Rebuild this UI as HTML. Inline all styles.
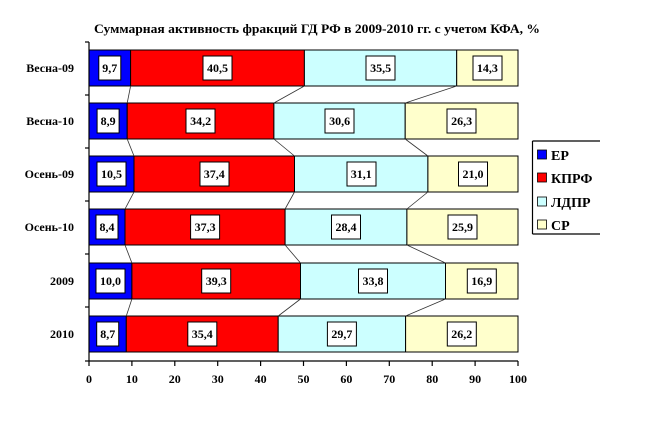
<!DOCTYPE html>
<html><head><meta charset="utf-8"><style>
body{margin:0;background:#fff}
svg{display:block;font-family:"Liberation Serif","DejaVu Serif",serif;font-weight:bold}
</style></head><body>
<svg width="650" height="432" xmlns="http://www.w3.org/2000/svg" font-size="12">
<text x="317" y="33" text-anchor="middle" font-size="12.5" textLength="446" lengthAdjust="spacingAndGlyphs">Суммарная активность фракций ГД РФ в 2009-2010 гг. с учетом КФА, %</text>
<g stroke="#000" stroke-width="1">
<rect x="89" y="50" width="41.6" height="36" fill="#0000ff"/>
<rect x="130.6" y="50" width="173.8" height="36" fill="#ff0000"/>
<rect x="304.4" y="50" width="152.3" height="36" fill="#ccffff"/>
<rect x="456.7" y="50" width="61.3" height="36" fill="#ffffcc"/>
<rect x="89" y="103" width="38.2" height="36" fill="#0000ff"/>
<rect x="127.2" y="103" width="146.7" height="36" fill="#ff0000"/>
<rect x="273.9" y="103" width="131.3" height="36" fill="#ccffff"/>
<rect x="405.2" y="103" width="112.8" height="36" fill="#ffffcc"/>
<rect x="89" y="156" width="45" height="36" fill="#0000ff"/>
<rect x="134" y="156" width="160.5" height="36" fill="#ff0000"/>
<rect x="294.5" y="156" width="133.4" height="36" fill="#ccffff"/>
<rect x="427.9" y="156" width="90.1" height="36" fill="#ffffcc"/>
<rect x="89" y="209" width="36" height="36" fill="#0000ff"/>
<rect x="125" y="209" width="160.1" height="36" fill="#ff0000"/>
<rect x="285.1" y="209" width="121.8" height="36" fill="#ccffff"/>
<rect x="406.9" y="209" width="111.1" height="36" fill="#ffffcc"/>
<rect x="89" y="263" width="42.9" height="36" fill="#0000ff"/>
<rect x="131.9" y="263" width="168.6" height="36" fill="#ff0000"/>
<rect x="300.5" y="263" width="145" height="36" fill="#ccffff"/>
<rect x="445.5" y="263" width="72.5" height="36" fill="#ffffcc"/>
<rect x="89" y="316" width="37.3" height="36" fill="#0000ff"/>
<rect x="126.3" y="316" width="151.9" height="36" fill="#ff0000"/>
<rect x="278.2" y="316" width="127.4" height="36" fill="#ccffff"/>
<rect x="405.6" y="316" width="112.4" height="36" fill="#ffffcc"/>
</g>
<g stroke="#333" stroke-width="0.8">
<line x1="130.6" y1="86" x2="127.2" y2="103"/><line x1="304.4" y1="86" x2="273.9" y2="103"/><line x1="456.7" y1="86" x2="405.2" y2="103"/>
<line x1="127.2" y1="139" x2="134" y2="156"/><line x1="273.9" y1="139" x2="294.5" y2="156"/><line x1="405.2" y1="139" x2="427.9" y2="156"/>
<line x1="134" y1="192" x2="125" y2="209"/><line x1="294.5" y1="192" x2="285.1" y2="209"/><line x1="427.9" y1="192" x2="406.9" y2="209"/>
<line x1="125" y1="245" x2="131.9" y2="263"/><line x1="285.1" y1="245" x2="300.5" y2="263"/><line x1="406.9" y1="245" x2="445.5" y2="263"/>
<line x1="131.9" y1="299" x2="126.3" y2="316"/><line x1="300.5" y1="299" x2="278.2" y2="316"/><line x1="445.5" y1="299" x2="405.6" y2="316"/>
</g>
<g stroke="#000" stroke-width="1.2">
<line x1="89" y1="42" x2="89" y2="361"/>
<line x1="89" y1="361" x2="518" y2="361"/>
<line x1="85" y1="42" x2="89" y2="42"/><line x1="85" y1="95" x2="89" y2="95"/><line x1="85" y1="148" x2="89" y2="148"/><line x1="85" y1="201" x2="89" y2="201"/><line x1="85" y1="254" x2="89" y2="254"/><line x1="85" y1="307" x2="89" y2="307"/><line x1="85" y1="361" x2="89" y2="361"/>
<line x1="89" y1="361" x2="89" y2="366"/><line x1="131.9" y1="361" x2="131.9" y2="366"/><line x1="174.8" y1="361" x2="174.8" y2="366"/><line x1="217.7" y1="361" x2="217.7" y2="366"/><line x1="260.6" y1="361" x2="260.6" y2="366"/><line x1="303.5" y1="361" x2="303.5" y2="366"/><line x1="346.4" y1="361" x2="346.4" y2="366"/><line x1="389.3" y1="361" x2="389.3" y2="366"/><line x1="432.2" y1="361" x2="432.2" y2="366"/><line x1="475.1" y1="361" x2="475.1" y2="366"/><line x1="518" y1="361" x2="518" y2="366"/>
</g>
<g text-anchor="middle" font-size="12">
<text x="89" y="383">0</text><text x="131.9" y="383">10</text><text x="174.8" y="383">20</text><text x="217.7" y="383">30</text><text x="260.6" y="383">40</text><text x="303.5" y="383">50</text><text x="346.4" y="383">60</text><text x="389.3" y="383">70</text><text x="432.2" y="383">80</text><text x="475.1" y="383">90</text><text x="518" y="383">100</text>
</g>
<g text-anchor="end" font-size="12">
<text x="74" y="72">Весна-09</text>
<text x="74" y="125">Весна-10</text>
<text x="74" y="178">Осень-09</text>
<text x="74" y="231">Осень-10</text>
<text x="74" y="285">2009</text>
<text x="74" y="338">2010</text>
</g>
<g fill="#fff" stroke="#000" stroke-width="1">
<rect x="98.8" y="56" width="22" height="24"/><rect x="203" y="56" width="29" height="24"/><rect x="366" y="56" width="29" height="24"/><rect x="473" y="56" width="29" height="24"/>
<rect x="97.1" y="109" width="22" height="24"/><rect x="186" y="109" width="29" height="24"/><rect x="325" y="109" width="29" height="24"/><rect x="447" y="109" width="29" height="24"/>
<rect x="97" y="162" width="29" height="24"/><rect x="200" y="162" width="29" height="24"/><rect x="347" y="162" width="29" height="24"/><rect x="458.5" y="162" width="29" height="24"/>
<rect x="96" y="215" width="22" height="24"/><rect x="190.6" y="215" width="29" height="24"/><rect x="331.5" y="215" width="29" height="24"/><rect x="448" y="215" width="29" height="24"/>
<rect x="96" y="269" width="29" height="24"/><rect x="201.7" y="269" width="29" height="24"/><rect x="358.5" y="269" width="29" height="24"/><rect x="467.3" y="269" width="29" height="24"/>
<rect x="96.7" y="322" width="22" height="24"/><rect x="187.8" y="322" width="29" height="24"/><rect x="327.4" y="322" width="29" height="24"/><rect x="447.3" y="322" width="29" height="24"/>
</g>
<g text-anchor="middle" font-size="12">
<text x="109.8" y="72">9,7</text><text x="217.5" y="72">40,5</text><text x="380.6" y="72">35,5</text><text x="487.4" y="72">14,3</text>
<text x="108.1" y="125">8,9</text><text x="200.6" y="125">34,2</text><text x="339.6" y="125">30,6</text><text x="461.6" y="125">26,3</text>
<text x="111.5" y="178">10,5</text><text x="214.3" y="178">37,4</text><text x="361.2" y="178">31,1</text><text x="473" y="178">21,0</text>
<text x="107" y="231">8,4</text><text x="205.1" y="231">37,3</text><text x="346" y="231">28,4</text><text x="462.5" y="231">25,9</text>
<text x="110.5" y="285">10,0</text><text x="216.2" y="285">39,3</text><text x="373" y="285">33,8</text><text x="481.8" y="285">16,9</text>
<text x="107.7" y="338">8,7</text><text x="202.3" y="338">35,4</text><text x="341.9" y="338">29,7</text><text x="461.8" y="338">26,2</text>
</g>
<g stroke="#000" stroke-width="1.2">
<line x1="532.5" y1="141" x2="600" y2="141"/><line x1="532.5" y1="141" x2="532.5" y2="234"/><line x1="532.5" y1="234" x2="600" y2="234"/>
</g>
<g stroke="#000" stroke-width="0.8">
<rect x="537.5" y="150" width="9" height="9" fill="#0000ff"/>
<rect x="537.5" y="173" width="9" height="9" fill="#ff0000"/>
<rect x="537.5" y="197" width="9" height="9" fill="#ccffff"/>
<rect x="537.5" y="220" width="9" height="9" fill="#ffffcc"/>
</g>
<g font-size="14">
<text x="551" y="160">ЕР</text>
<text x="551" y="183">КПРФ</text>
<text x="551" y="207">ЛДПР</text>
<text x="551" y="230">СР</text>
</g>
</svg>
</body></html>
